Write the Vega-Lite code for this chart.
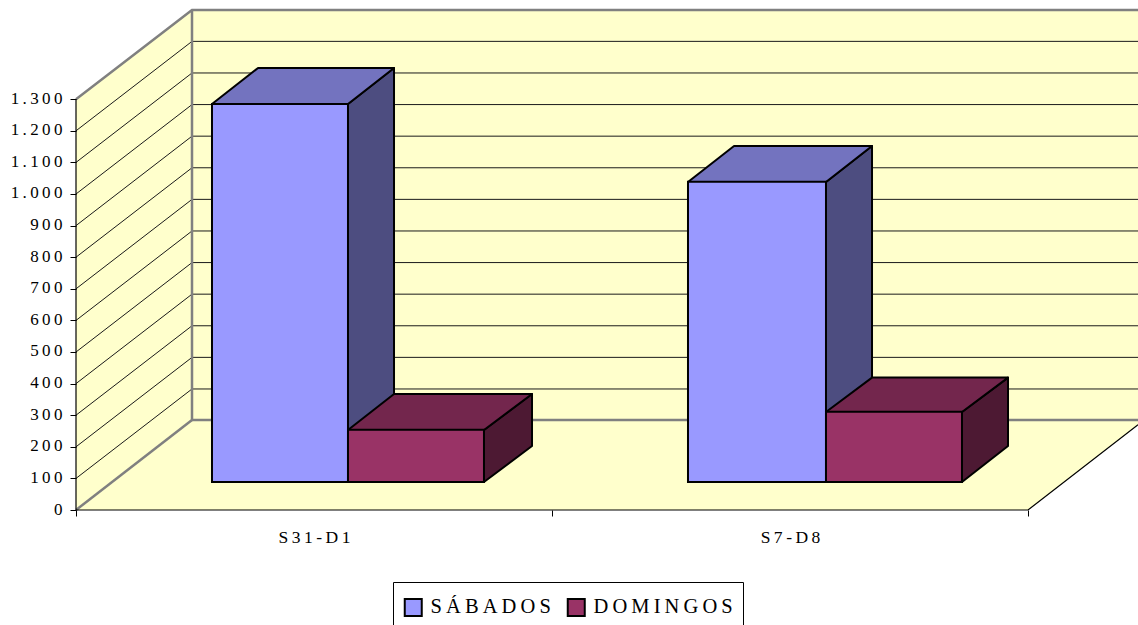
{
"$schema":"https://vega.github.io/schema/vega-lite/v6.json",
"autosize":"none","width":1062,"height":510,
"padding":{"left":76,"top":0,"right":0,"bottom":115},
"background":"white",
"config":{"view":{"stroke":null},"font":"Liberation Serif"},
"datasets":{
"paredes":[
{"pared":"izquierda","x":0,"y":0,"y2":1300},{"pared":"izquierda","x":0.2437,"y":285,"y2":1582},
{"pared":"fondo","x":0.2437,"y":285,"y2":1582},{"pared":"fondo","x":2.2311,"y":285,"y2":1582},
{"pared":"suelo","x":0,"y":0,"y2":0},{"pared":"suelo","x":0.2437,"y":0,"y2":285},{"pared":"suelo","x":2,"y":0,"y2":285},{"pared":"suelo","x":2.2311,"y":270,"y2":285}
],
"lineas":[
{"tipo":"rejilla","id":"100","x":0,"y":100},{"tipo":"rejilla","id":"100","x":0.2437,"y":383},{"tipo":"rejilla","id":"100","x":2.2311,"y":383},
{"tipo":"rejilla","id":"200","x":0,"y":200},{"tipo":"rejilla","id":"200","x":0.2437,"y":483},{"tipo":"rejilla","id":"200","x":2.2311,"y":483},
{"tipo":"rejilla","id":"300","x":0,"y":300},{"tipo":"rejilla","id":"300","x":0.2437,"y":583},{"tipo":"rejilla","id":"300","x":2.2311,"y":583},
{"tipo":"rejilla","id":"400","x":0,"y":400},{"tipo":"rejilla","id":"400","x":0.2437,"y":683},{"tipo":"rejilla","id":"400","x":2.2311,"y":683},
{"tipo":"rejilla","id":"500","x":0,"y":500},{"tipo":"rejilla","id":"500","x":0.2437,"y":783},{"tipo":"rejilla","id":"500","x":2.2311,"y":783},
{"tipo":"rejilla","id":"600","x":0,"y":600},{"tipo":"rejilla","id":"600","x":0.2437,"y":883},{"tipo":"rejilla","id":"600","x":2.2311,"y":883},
{"tipo":"rejilla","id":"700","x":0,"y":700},{"tipo":"rejilla","id":"700","x":0.2437,"y":983},{"tipo":"rejilla","id":"700","x":2.2311,"y":983},
{"tipo":"rejilla","id":"800","x":0,"y":800},{"tipo":"rejilla","id":"800","x":0.2437,"y":1083},{"tipo":"rejilla","id":"800","x":2.2311,"y":1083},
{"tipo":"rejilla","id":"900","x":0,"y":900},{"tipo":"rejilla","id":"900","x":0.2437,"y":1183},{"tipo":"rejilla","id":"900","x":2.2311,"y":1183},
{"tipo":"rejilla","id":"1000","x":0,"y":1000},{"tipo":"rejilla","id":"1000","x":0.2437,"y":1283},{"tipo":"rejilla","id":"1000","x":2.2311,"y":1283},
{"tipo":"rejilla","id":"1100","x":0,"y":1100},{"tipo":"rejilla","id":"1100","x":0.2437,"y":1383},{"tipo":"rejilla","id":"1100","x":2.2311,"y":1383},
{"tipo":"rejilla","id":"1200","x":0,"y":1200},{"tipo":"rejilla","id":"1200","x":0.2437,"y":1483},{"tipo":"rejilla","id":"1200","x":2.2311,"y":1483},
{"tipo":"muro","id":"m1","x":0,"y":1300},{"tipo":"muro","id":"m1","x":0.2437,"y":1582},{"tipo":"muro","id":"m1","x":2.2311,"y":1582},
{"tipo":"muro","id":"m2","x":0.2437,"y":1582},{"tipo":"muro","id":"m2","x":0.2437,"y":285},{"tipo":"muro","id":"m2","x":2.2311,"y":285},
{"tipo":"muro","id":"m3","x":0,"y":0},{"tipo":"muro","id":"m3","x":0.2437,"y":285},
{"tipo":"eje","id":"e1","x":0,"y":0},{"tipo":"eje","id":"e1","x":0,"y":1300},
{"tipo":"eje","id":"e2","x":0,"y":0},{"tipo":"eje","id":"e2","x":2,"y":0},{"tipo":"eje","id":"e2","x":2.2311,"y":270}
],
"caras":[
{"serie":"SÁBADOS","cara":"lateral","barra":"S31-D1","x":0.5714,"y":88.6,"y2":1284.8},{"serie":"SÁBADOS","cara":"lateral","barra":"S31-D1","x":0.6681,"y":202.6,"y2":1398.8},
{"serie":"SÁBADOS","cara":"superior","barra":"S31-D1","x":0.2857,"y":1284.8,"y2":1284.8},{"serie":"SÁBADOS","cara":"superior","barra":"S31-D1","x":0.3824,"y":1284.8,"y2":1398.8},{"serie":"SÁBADOS","cara":"superior","barra":"S31-D1","x":0.5714,"y":1284.8,"y2":1398.8},{"serie":"SÁBADOS","cara":"superior","barra":"S31-D1","x":0.6681,"y":1398.8,"y2":1398.8},
{"serie":"SÁBADOS","cara":"lateral","barra":"S7-D8","x":1.5756,"y":88.6,"y2":1038},{"serie":"SÁBADOS","cara":"lateral","barra":"S7-D8","x":1.6723,"y":202.6,"y2":1152},
{"serie":"SÁBADOS","cara":"superior","barra":"S7-D8","x":1.2857,"y":1038,"y2":1038},{"serie":"SÁBADOS","cara":"superior","barra":"S7-D8","x":1.3824,"y":1038,"y2":1152},{"serie":"SÁBADOS","cara":"superior","barra":"S7-D8","x":1.5756,"y":1038,"y2":1152},{"serie":"SÁBADOS","cara":"superior","barra":"S7-D8","x":1.6723,"y":1152,"y2":1152},
{"serie":"DOMINGOS","cara":"lateral","barra":"S31-D1","x":0.8571,"y":88.6,"y2":253.2},{"serie":"DOMINGOS","cara":"lateral","barra":"S31-D1","x":0.958,"y":202.6,"y2":367.2},
{"serie":"DOMINGOS","cara":"superior","barra":"S31-D1","x":0.5714,"y":253.2,"y2":253.2},{"serie":"DOMINGOS","cara":"superior","barra":"S31-D1","x":0.6681,"y":253.2,"y2":367.2},{"serie":"DOMINGOS","cara":"superior","barra":"S31-D1","x":0.8571,"y":253.2,"y2":367.2},{"serie":"DOMINGOS","cara":"superior","barra":"S31-D1","x":0.958,"y":367.2,"y2":367.2},
{"serie":"DOMINGOS","cara":"lateral","barra":"S7-D8","x":1.8613,"y":88.6,"y2":310.1},{"serie":"DOMINGOS","cara":"lateral","barra":"S7-D8","x":1.958,"y":202.6,"y2":419},
{"serie":"DOMINGOS","cara":"superior","barra":"S7-D8","x":1.5756,"y":310.1,"y2":310.1},{"serie":"DOMINGOS","cara":"superior","barra":"S7-D8","x":1.6723,"y":310.1,"y2":419},{"serie":"DOMINGOS","cara":"superior","barra":"S7-D8","x":1.8613,"y":310.1,"y2":419},{"serie":"DOMINGOS","cara":"superior","barra":"S7-D8","x":1.958,"y":419,"y2":419}
],
"barras":[
{"categoria":"S31-D1","serie":"SÁBADOS","valor":1196,"x":0.2857,"x2":0.5714},
{"categoria":"S31-D1","serie":"DOMINGOS","valor":165,"x":0.5714,"x2":0.8571},
{"categoria":"S7-D8","serie":"SÁBADOS","valor":950,"x":1.2857,"x2":1.5756},
{"categoria":"S7-D8","serie":"DOMINGOS","valor":222,"x":1.5756,"x2":1.8613}
]
},
"resolve":{"scale":{"y":"independent"}},
"layer":[
{
"encoding":{
"x":{"field":"x","type":"quantitative","title":null,"scale":{"domain":[0,2.2311],"nice":false,"zero":false},
"axis":{"values":[0,0.5,1,1.5,2],"grid":false,"domain":false,"tickColor":"#000","tickSize":6,"tickOpacity":{"condition":{"test":"datum.value==0.5||datum.value==1.5","value":0},"value":1},"labelFontSize":17.5,"labelColor":"#000","labelPadding":12,"labelOverlap":false,"labelFlush":false,"zindex":1,
"labelExpr":"datum.value==0.5?'S\u20093\u20091\u2009-\u2009D\u20091':datum.value==1.5?'S\u20097\u2009-\u2009D\u20098':''"}},
"y":{"field":"y","type":"quantitative","title":null,"scale":{"domain":[0,1613.92],"nice":false,"zero":false},
"axis":{"values":[0,100,200,300,400,500,600,700,800,900,1000,1100,1200,1300],"grid":false,"domain":false,"tickColor":"#000","tickSize":6,"labelFontSize":17,"labelColor":"#000","labelPadding":8,"labelOffset":-1,"labelOverlap":false,"labelFlush":false,"zindex":1,
"labelExpr":"join(split(replace(format(datum.value,','),',','.'),''),'\u2009')"}}
},
"layer":[
{"data":{"name":"paredes"},"mark":{"type":"area","fill":"#FFFFCC","stroke":null},"encoding":{"y2":{"field":"y2"},"detail":{"field":"pared"}}},
{"data":{"name":"lineas"},"transform":[{"filter":"datum.tipo=='rejilla'"}],"mark":{"type":"line","stroke":"#1a1a1a","strokeWidth":1},"encoding":{"detail":{"field":"id"}}},
{"data":{"name":"lineas"},"transform":[{"filter":"datum.tipo=='muro'"}],"mark":{"type":"line","stroke":"#808080","strokeWidth":2.5},"encoding":{"detail":{"field":"id"}}},
{"data":{"name":"lineas"},"transform":[{"filter":"datum.tipo=='eje'"}],"mark":{"type":"line","stroke":"#000","strokeWidth":1.2},"encoding":{"detail":{"field":"id"}}},
{"data":{"name":"caras"},"transform":[{"filter":"datum.serie=='SÁBADOS'&&datum.cara=='lateral'"}],"mark":{"type":"area","fill":"#4D4D80","stroke":"#000","strokeWidth":2,"strokeJoin":"round"},"encoding":{"y2":{"field":"y2"},"detail":{"field":"barra"}}},
{"data":{"name":"caras"},"transform":[{"filter":"datum.serie=='SÁBADOS'&&datum.cara=='superior'"}],"mark":{"type":"area","fill":"#7373BF","stroke":"#000","strokeWidth":2,"strokeJoin":"round"},"encoding":{"y2":{"field":"y2"},"detail":{"field":"barra"}}},
{"data":{"name":"caras"},"transform":[{"filter":"datum.serie=='DOMINGOS'&&datum.cara=='lateral'"}],"mark":{"type":"area","fill":"#4D1933","stroke":"#000","strokeWidth":2,"strokeJoin":"round"},"encoding":{"y2":{"field":"y2"},"detail":{"field":"barra"}}},
{"data":{"name":"caras"},"transform":[{"filter":"datum.serie=='DOMINGOS'&&datum.cara=='superior'"}],"mark":{"type":"area","fill":"#73264D","stroke":"#000","strokeWidth":2,"strokeJoin":"round"},"encoding":{"y2":{"field":"y2"},"detail":{"field":"barra"}}}
]
},
{
"data":{"name":"barras"},
"mark":{"type":"rect","stroke":"#000","strokeWidth":2},
"encoding":{
"x":{"field":"x","type":"quantitative"},
"x2":{"field":"x2"},
"y":{"field":"valor","type":"quantitative","scale":{"domain":[0,1300],"range":[482,71.2],"nice":false,"zero":false},"axis":null},
"y2":{"datum":0},
"fill":{"field":"serie","type":"nominal","scale":{"domain":["SÁBADOS","DOMINGOS"],"range":["#9999FF","#993366"]},
"legend":{"title":" ","titleFontSize":5,"titlePadding":0,"orient":"none","legendX":317,"legendY":582,"direction":"horizontal","columns":2,"symbolType":"square","symbolSize":289,"symbolStrokeColor":"#000","symbolStrokeWidth":2,"labelFontSize":20.5,"labelColor":"#000","labelOffset":7,"columnPadding":12,"padding":10,"strokeColor":"#000","fillColor":"#fff",
"labelExpr":"join(split(datum.label,''),'\u2009')+(datum.label=='DOMINGOS'?'\u2002':'')"}}
}
}
]
}
